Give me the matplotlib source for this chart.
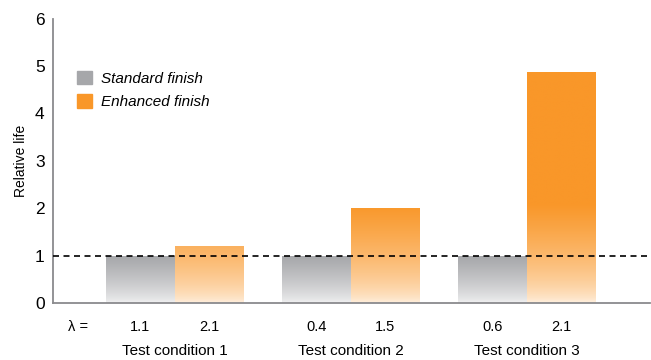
import numpy as np
import matplotlib.pyplot as plt
from matplotlib.colors import LinearSegmentedColormap
from matplotlib.patches import Patch

# Data
conditions = ['Test condition 1', 'Test condition 2', 'Test condition 3']
standard = [1.0, 1.0, 1.0]
enhanced = [1.22, 2.02, 4.88]
lambda_std = ['1.1', '0.4', '0.6']
lambda_enh = ['2.1', '1.5', '2.1']

gray = '#a6a7aa'
orange = '#f99729'

plt.rcParams['font.family'] = ['Liberation Sans Narrow', 'Liberation Sans', 'DejaVu Sans']

fig = plt.figure(figsize=(6.51, 3.6), dpi=100)
ax = fig.add_axes([0.0814, 0.157, 0.9171, 0.7916])

x = np.arange(len(conditions))
w = 0.392


def gradient_bar(xc, h, color, fade_top, bottom_col, power):
    # bar outline (invisible), used as clip path for the gradient
    rect = ax.bar(xc, h - 0.02, width=w, bottom=0.02, color='none', edgecolor='none')[0]
    cmap = LinearSegmentedColormap.from_list('g', [bottom_col, color])
    ys = np.linspace(0.02, h, 200)
    vals = np.clip(ys / fade_top, 0, 1) ** power
    img = ax.imshow(vals[:, None], cmap=cmap, vmin=0, vmax=1, origin='lower',
                    extent=[xc - w / 2, xc + w / 2, 0.02, h], aspect='auto',
                    interpolation='bilinear', zorder=1)
    img.set_clip_path(rect)


for i in range(len(conditions)):
    gradient_bar(x[i] - w / 2, standard[i], gray, 1.0, '#f4f4f5', 0.75)
    gradient_bar(x[i] + w / 2, enhanced[i], orange, 2.1, '#fff5ea', 0.6)

ax.axhline(1, color='black', lw=1.2, ls=(0, (3.6, 2.7)), zorder=3)

ax.set_xlim(-0.693, 2.70)
ax.set_ylim(0, 6)

# spines
for s in ['top', 'right']:
    ax.spines[s].set_visible(False)
for s in ['left', 'bottom']:
    ax.spines[s].set_color('#8a8a8d')
    ax.spines[s].set_linewidth(1.3)

ax.set_yticks(range(7))
ax.tick_params(axis='y', length=0, pad=6, labelsize=12.5)

# lambda labels as x ticks
tick_pos = [-0.55]
tick_lab = ['λ =']
for i in range(len(conditions)):
    tick_pos += [x[i] - w / 2, x[i] + w / 2]
    tick_lab += [lambda_std[i], lambda_enh[i]]
ax.set_xticks(tick_pos)
ax.set_xticklabels(tick_lab)
ax.tick_params(axis='x', length=0, pad=12, labelsize=10.5)

for i, c in enumerate(conditions):
    ax.text(x[i], -0.168, c, transform=ax.get_xaxis_transform(),
            ha='center', va='center', fontsize=11)

ax.set_ylabel('Relative life', fontsize=10, labelpad=5)

handles = [Patch(color=gray), Patch(color=orange)]
ax.legend(handles, ['Standard finish', 'Enhanced finish'], loc='upper left',
          bbox_to_anchor=(0.017, 0.865), frameon=False, handlelength=1.0,
          handleheight=1.0, handletextpad=0.6, labelspacing=0.55,
          prop={'style': 'italic', 'size': 11})

fig.savefig('out.png', dpi=100)
